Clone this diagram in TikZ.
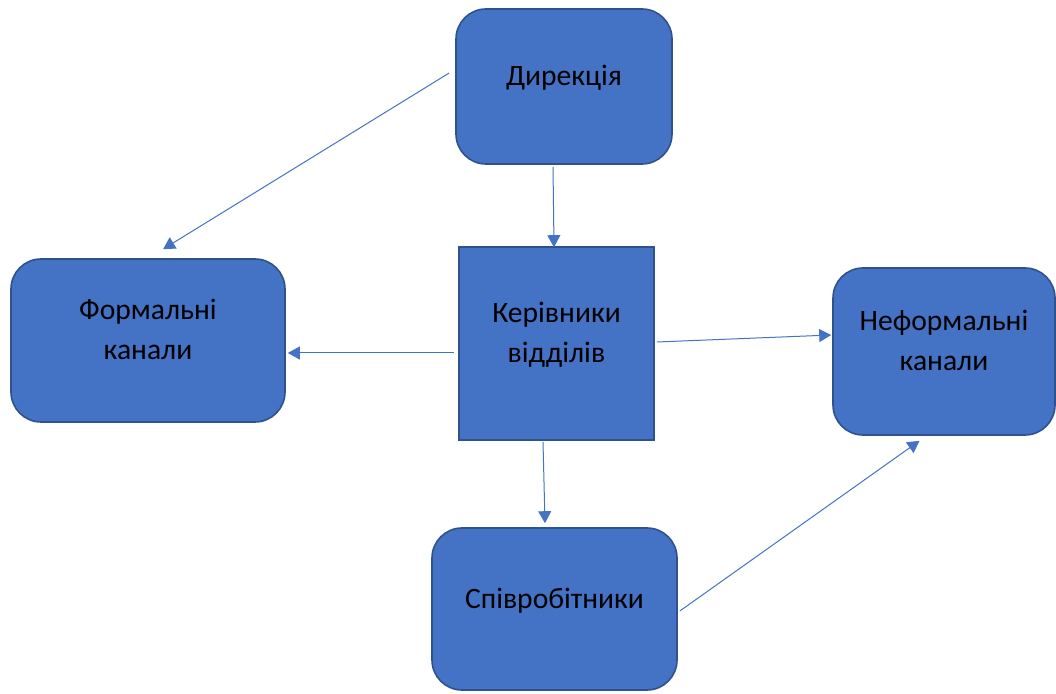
\documentclass[tikz,border=0pt]{standalone}
\usepackage{fontspec}
\setmainfont{Carlito}
\usepackage{tikz}
\usetikzlibrary{arrows.meta, positioning, calc}
\definecolor{boxfill}{HTML}{4472C4}
\definecolor{boxline}{HTML}{2F528F}
\definecolor{arrowcolor}{HTML}{4472C4}
\newcommand{\lifttext}[1]{\raisebox{9pt}[\height][\depth]{\begin{tabular}{@{}c@{}}#1\end{tabular}}}

\begin{document}
\begin{tikzpicture}[
    x=1pt, y=1pt,
    box/.style={rectangle, draw=boxline, fill=boxfill, line width=1.6pt, font=\fontsize{29.6}{40}\selectfont, inner sep=0pt},
    rbox/.style={box, rounded corners=30pt},
    arr/.style={-{Triangle[length=12pt, width=13pt]}, arrowcolor, line width=1pt},
  ]
  \useasboundingbox (0,0) rectangle (1056,693);
  \node[rbox, minimum width=216pt, minimum height=155pt] (dir) at (564,606.5) {\lifttext{Дирекція}};
  \node[rbox, minimum width=274pt, minimum height=163pt] (formal) at (148,352.5) {\lifttext{Формальні\\канали}};
  \node[box, minimum width=195pt, minimum height=193pt] (head) at (556.5,349.5) {\lifttext{Керівники\\відділів}};
  \node[rbox, minimum width=222pt, minimum height=167pt] (informal) at (944,341.5) {\lifttext{Неформальні\\канали}};
  \node[rbox, minimum width=245pt, minimum height=162pt] (staff) at (554.5,84) {\lifttext{Співробітники}};

  \draw[arr] ([shift={(-6,13.5)}]dir.west) -- ([shift={(15,9)}]formal.north);
  \draw[arr] ([shift={(-11,-2)}]dir.south) -- ([shift={(-2.5,-1)}]head.north);
  \draw[arr] ([shift={(-4,-9.5)}]head.west) -- ([shift={(2,-12.5)}]formal.east);
  \draw[arr] ([shift={(2,1.5)}]head.east) -- ([shift={(-1,16.5)}]informal.west);
  \draw[arr] ([shift={(-13.5,-1)}]head.south) -- ([shift={(-9.5,4)}]staff.north);
  \draw[arr] ([shift={(2,-2)}]staff.east) -- ([shift={(-24.5,-5)}]informal.south);
\end{tikzpicture}
\end{document}
